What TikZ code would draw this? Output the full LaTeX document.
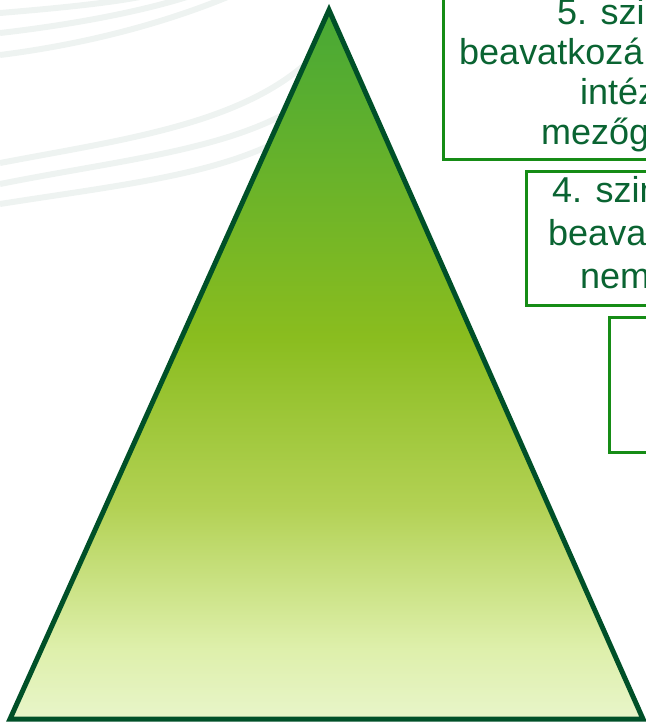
\documentclass[tikz,border=0pt]{standalone}
\usepackage{fontspec}
\setmainfont{Liberation Sans}

\def\pyramid{(329,10) -- (643,719) -- (10,719) -- cycle}
\def\slidebox{(0,0) rectangle (646,724)}
\colorlet{pyramid edge}{rgb,255:red,0;green,80;blue,40}
\colorlet{level edge}{rgb,255:red,22;green,140;blue,22}
\colorlet{level text}{rgb,255:red,10;green,100;blue,50}
\colorlet{swirl line}{rgb,255:red,238;green,243;blue,241}
\pgfdeclareverticalshading{pyramid fill}{100bp}{%
  rgb(0bp)=(0.91,0.96,0.79); rgb(25bp)=(0.91,0.96,0.79);
  rgb(30bp)=(0.87,0.94,0.67); rgb(40bp)=(0.70,0.82,0.33);
  rgb(52bp)=(0.54,0.74,0.12); rgb(75bp)=(0.28,0.66,0.21);
  rgb(100bp)=(0.28,0.66,0.21)}
\tikzset{levelbox/.style={draw=level edge, line width=2.5pt},
    leveltext/.style={anchor=base west, inner sep=0pt, text=level text,
        font=\fontsize{36}{40}\selectfont},
    swirl/.style={draw=swirl line, line width=6pt}}

\begin{document}
\begin{tikzpicture}[x=1pt, y=-1pt]
     \useasboundingbox \slidebox;
     \clip \slidebox;
     % background swirls
     \draw[swirl] (0,13) .. controls (60,8) and (110,3) .. (145,-4);
     \draw[swirl] (0,33) .. controls (70,25) and (140,12) .. (190,-4);
     \draw[swirl] (0,55) .. controls (80,45) and (160,25) .. (230,-4);
     \draw[swirl] (0,163) .. controls (120,140) and (240,125) .. (310,60);
     \draw[swirl] (0,184) .. controls (120,160) and (230,150) .. (300,105);
     \draw[swirl] (0,204) .. controls (120,185) and (220,175) .. (290,135);
     % pyramid
     \shade[shading=pyramid fill] \pyramid;
     \draw[pyramid edge, line width=5pt, line join=miter] \pyramid;
     % level boxes
     \node[levelbox, anchor=north west, minimum width=260pt, minimum height=178pt] (lvl5) at (442,-20) {};
     \node[levelbox, anchor=north west, minimum width=180pt, minimum height=134pt] (lvl4) at (525,170) {};
     \node[levelbox, anchor=north west, minimum width=100pt, minimum height=135pt] (lvl3) at (608,316) {};
     \node[leveltext] (lvl5a) at (557,24) {5. szin};
     \node[leveltext] (lvl5b) at (459,64) {beavatkozá};
     \node[leveltext] (lvl5c) at (580,104) {intéz};
     \node[leveltext] (lvl5d) at (541,144) {mezőg};
     \node[leveltext] (lvl4a) at (552,202) {4. szin};
     \node[leveltext] (lvl4b) at (548,245) {beava};
     \node[leveltext] (lvl4c) at (580,288) {nem};
 \end{tikzpicture}
\end{document}
